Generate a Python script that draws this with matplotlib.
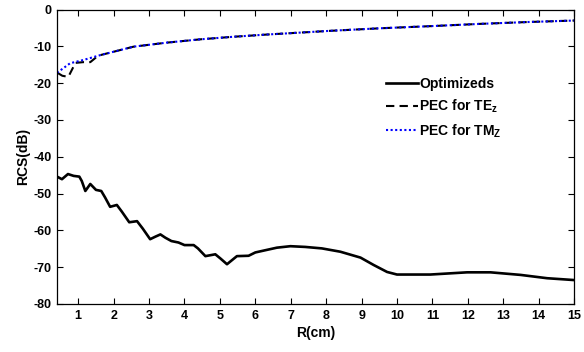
import matplotlib
matplotlib.use("Agg")
import matplotlib.pyplot as plt

plt.rcParams['font.family'] = ['Liberation Sans', 'DejaVu Sans']
plt.rcParams['font.weight'] = 'bold'
plt.rcParams['mathtext.fontset'] = 'custom'
plt.rcParams['mathtext.bf'] = 'Liberation Sans:bold'
plt.rcParams['mathtext.rm'] = 'Liberation Sans:bold'
plt.rcParams['mathtext.default'] = 'bf'

# optimized structure
r_opt = [0.40, 0.54, 0.71, 0.87, 1.03, 1.10, 1.20, 1.34, 1.50, 1.65, 1.76, 1.90,
         2.09, 2.23, 2.44, 2.66, 2.82, 3.03, 3.18, 3.32, 3.46, 3.63, 3.83, 4.00,
         4.26, 4.38, 4.59, 4.87, 5.01, 5.20, 5.48, 5.81, 6.00, 6.28, 6.61, 6.99,
         7.41, 7.88, 8.40, 8.97, 9.34, 9.72, 10.0, 10.94, 11.98, 12.64, 13.49,
         14.24, 15.0]
rcs_opt = [-45.4, -46.1, -44.7, -45.2, -45.4, -46.6, -49.3, -47.4, -49.0, -49.3,
           -51.1, -53.6, -53.1, -54.9, -57.8, -57.5, -59.5, -62.4, -61.7, -61.1,
           -62.0, -62.9, -63.3, -64.0, -64.0, -64.9, -67.0, -66.5, -67.6, -69.2,
           -67.0, -66.9, -66.0, -65.4, -64.7, -64.3, -64.5, -64.9, -65.8, -67.4,
           -69.4, -71.3, -72.0, -72.0, -71.4, -71.4, -72.1, -73.0, -73.5]

# PEC cylinder, TE_z
r_te = [0.43, 0.55, 0.72, 0.92, 1.14, 1.34, 1.48, 1.62, 2.56, 3.5, 4.45, 5.39,
        6.33, 7.22, 8.1, 9.53, 11.0, 12.36, 13.7, 15.0]
rcs_te = [-17.3, -18.0, -18.3, -14.5, -14.3, -14.3, -13.2, -12.4, -10.1, -9.0,
          -8.1, -7.4, -6.8, -6.3, -5.8, -5.1, -4.5, -3.9, -3.4, -3.0]

# PEC cylinder, TM_z
r_tm = [0.4, 0.77, 1.15, 1.62, 2.56, 3.5, 4.45, 5.39, 6.33, 7.22, 8.1, 9.53,
        11.0, 12.36, 13.7, 15.0]
rcs_tm = [-17.2, -14.6, -13.7, -12.4, -10.1, -9.0, -8.1, -7.4, -6.8, -6.3,
          -5.8, -5.1, -4.5, -3.9, -3.4, -3.0]

x_ticks = list(range(1, 16))
y_ticks = list(range(-80, 1, 10))

fig = plt.figure(figsize=(5.84, 3.52), dpi=100)
ax = fig.add_axes([0.0976, 0.1364, 0.8854, 0.8366])

ax.plot(r_opt, rcs_opt, color='black', lw=1.9, label='Optimizeds')
ax.plot(r_te, rcs_te, color='black', lw=1.5, ls=(0, (4, 2.5)), label='PEC for TE$_z$')
ax.plot(r_tm, rcs_tm, color='#0000ff', lw=1.5, ls=(0, (1, 1.2)), label='PEC for TM$_Z$')

ax.set_xlim(0.4, 15)
ax.set_ylim(-80, 0)
ax.set_xticks(x_ticks)
ax.set_yticks(y_ticks)
ax.set_yticklabels([str(v) for v in y_ticks])
ax.tick_params(direction='in', top=True, right=True, length=4, width=0.8,
               labelsize=9, pad=4)
for s in ax.spines.values():
    s.set_linewidth(0.9)

ax.set_xlabel('R(cm)', fontsize=10, fontweight='bold', labelpad=3)
ax.set_ylabel('RCS(dB)', fontsize=10, fontweight='bold', labelpad=2)

ax.legend(loc='upper left', bbox_to_anchor=(0.625, 0.79), frameon=False,
          fontsize=10, handlelength=2.3, handletextpad=0.1, labelspacing=0.5,
          borderaxespad=0)

fig.savefig('out.png', dpi=100)
